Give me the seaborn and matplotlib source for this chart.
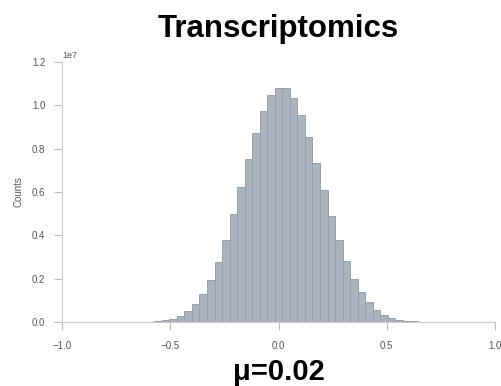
import numpy as np
import pandas as pd
import matplotlib
matplotlib.use("Agg")
import matplotlib.pyplot as plt
import seaborn as sns

# ---- data (counts in units of 1e7) ----
bin_first_edge = -0.7132
bin_width = 0.0348
counts_1e7 = [0.0002, 0.0005, 0.001, 0.002, 0.005, 0.009, 0.015, 0.028, 0.049, 0.082,
              0.129, 0.194, 0.277, 0.377, 0.497, 0.625, 0.751, 0.874, 0.974, 1.047,
              1.078, 1.078, 1.036, 0.957, 0.856, 0.736, 0.611, 0.489, 0.377, 0.282,
              0.199, 0.139, 0.091, 0.057, 0.032, 0.018, 0.011, 0.006, 0.003, 0.0015,
              0.0008, 0.0004]
title = "Transcriptomics"
mean_label = "μ=0.02"
x_ticks = [-1.0, -0.5, 0.0, 0.5, 1.0]
y_ticks = [0.0, 0.2e7, 0.4e7, 0.6e7, 0.8e7, 1.0e7, 1.2e7]

n = len(counts_1e7)
edges = [float(e) for e in bin_first_edge + bin_width * np.arange(n + 1)]
centers = [(edges[i] + edges[i + 1]) / 2 for i in range(n)]
df = pd.DataFrame({"value": centers, "count": np.array(counts_1e7) * 1e7})

sns.set_theme(style="white")
plt.rcParams['font.family'] = ['Liberation Sans', 'DejaVu Sans']

fig = plt.figure(figsize=(5.01, 3.86), dpi=100)
ax = fig.add_axes([0.1238, 0.1658, 0.8642, 0.6736])

sns.histplot(data=df, x="value", weights="count", bins=edges, ax=ax,
             color="#abb3be", alpha=1.0, edgecolor="#97a0ab", linewidth=0.7)

ax.set_xlim(-1.0, 1.0)
ax.set_ylim(0, 1.2e7)
ax.set_xticks(x_ticks)
ax.set_yticks(y_ticks)
ax.set_xticklabels(["\u22121.0", "\u22120.5", "0.0", "0.5", "1.0"])
ax.ticklabel_format(axis="y", style="sci", scilimits=(7, 7))
ax.yaxis.get_offset_text().set_fontsize(6.5)
ax.yaxis.get_offset_text().set_color("#555555")

for side in ["top", "right"]:
    ax.spines[side].set_visible(False)
for side in ["left", "bottom"]:
    ax.spines[side].set_color("#cccccc")
    ax.spines[side].set_linewidth(0.8)

ax.tick_params(axis="both", which="major", labelsize=7, labelcolor="#555555",
               color="#bbbbbb", length=6, width=0.8, direction="out",
               bottom=True, left=True, pad=6)
ax.tick_params(axis="x", pad=8)

ax.set_ylabel("Counts", fontsize=7, color="#555555", labelpad=6)
ax.set_xlabel(mean_label, fontsize=21, fontweight="bold", color="black", labelpad=5)
ax.set_title(title, fontsize=22.5, fontweight="bold", color="black", pad=18)

fig.savefig("out.png", dpi=100)
